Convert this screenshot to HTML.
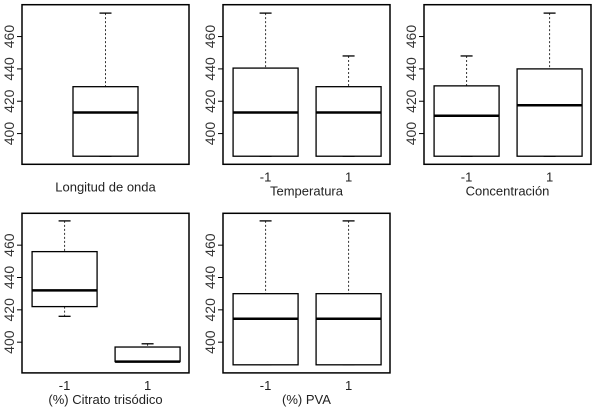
<!DOCTYPE html>
<html><head><meta charset="utf-8"><style>
html,body{margin:0;padding:0;background:#fff;}
svg{display:block;font-family:"Liberation Sans",sans-serif;}
</style></head><body>
<svg id="chart" width="600" height="415"></svg>
<script>
const panelTitles = ["Longitud de onda","Temperatura","Concentración","(%) Citrato trisódico","(%) PVA"];
const categories = [[""],["-1","1"],["-1","1"],["-1","1"],["-1","1"]];
const whiskerLow = [[386],[386,386],[386,386],[416,388],[386,386]];
const boxLow = [[386],[386,386],[386,386],[422,388],[386,386]];
const medians = [[413],[413,413],[411,417.5],[432,388],[414.5,414.5]];
const boxHigh = [[429],[440.5,429],[429.5,440],[456,397],[430,430]];
const whiskerHigh = [[474.5],[474.5,448],[448,474.5],[475,399],[475,475]];
const yTicks = [400,420,440,460];
const yMin = 381, yMax = 479.7;

const frames = [[22,4.7],[223,4.7],[424,4.7],[22,213.3],[223,213.3]];
const FW = 167, FH = 159.6;
const NS = "http://www.w3.org/2000/svg";
const svg = document.getElementById('chart');
function mk(tag, attrs, parent){
  const e = document.createElementNS(NS, tag);
  for (const k in attrs) e.setAttribute(k, attrs[k]);
  (parent||svg).appendChild(e); return e;
}
panelTitles.forEach((title, p) => {
  const [fx, fy] = frames[p];
  const g = mk('g', {});
  
  
  const y = v => fy + (yMax - v) / (yMax - yMin) * FH;
  const n = categories[p].length;
  const xc = i => n === 1 ? fx + FW/2 : fx + FW * (i === 0 ? 0.255 : 0.752);
  const bw = 65;
  for (let i = 0; i < n; i++) {
    const cx = xc(i);
    const bg = mk('g', {}, g);
    
    
    mk('line', {x1:cx, x2:cx, y1:y(whiskerHigh[p][i]), y2:y(boxHigh[p][i]), stroke:'#333', 'stroke-width':1, 'stroke-dasharray':'2,2'}, bg);
    mk('line', {x1:cx, x2:cx, y1:y(boxLow[p][i]), y2:y(whiskerLow[p][i]), stroke:'#333', 'stroke-width':1, 'stroke-dasharray':'2,2'}, bg);
    mk('line', {x1:cx-6, x2:cx+6, y1:y(whiskerHigh[p][i]), y2:y(whiskerHigh[p][i]), stroke:'#000', 'stroke-width':1.3}, bg);
    mk('line', {x1:cx-6, x2:cx+6, y1:y(whiskerLow[p][i]), y2:y(whiskerLow[p][i]), stroke:'#000', 'stroke-width':1.3}, bg);
    mk('rect', {x:cx-bw/2, y:y(boxHigh[p][i]), width:bw, height:y(boxLow[p][i])-y(boxHigh[p][i]), fill:'#fff', stroke:'#000', 'stroke-width':1.3}, bg);
    mk('line', {x1:cx-bw/2, x2:cx+bw/2, y1:y(medians[p][i]), y2:y(medians[p][i]), stroke:'#000', 'stroke-width':2.5}, bg);
    if (categories[p][i]) {
      const t = mk('text', {x:cx, y:fy+FH+17, 'text-anchor':'middle', 'font-size':13, fill:'#222'}, g);
      t.textContent = categories[p][i];
      
      
    }
  }
  const fr = mk('rect', {x:fx, y:fy, width:FW, height:FH, fill:'none', stroke:'#000', 'stroke-width':1.5}, g);
  
  
  yTicks.forEach(v => {
    mk('line', {x1:fx-5, x2:fx, y1:y(v), y2:y(v), stroke:'#000', 'stroke-width':1}, g);
    const t = mk('text', {x:0, y:0, 'text-anchor':'middle', 'font-size':14, fill:'#333', transform:`translate(${fx-8},${y(v)}) rotate(-90)`}, g);
    t.textContent = v;
    
    
  });
  const tt = mk('text', {x:fx+FW/2, y:fy+FH+(n===1?27:31), 'text-anchor':'middle', 'font-size':13, fill:'#222'}, g);
  tt.textContent = title;
  
  
});
</script>
</body></html>
